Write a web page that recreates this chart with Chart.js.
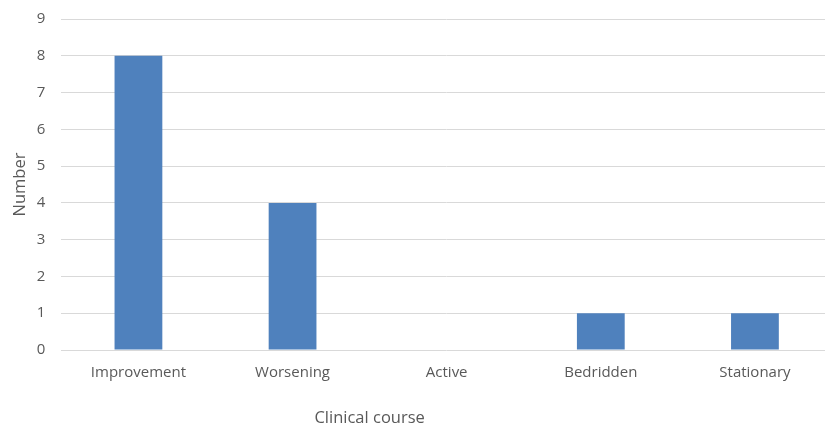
<!DOCTYPE html>
<html>
<head>
<meta charset="utf-8">
<script src="https://cdn.jsdelivr.net/npm/chart.js@4.4.1/dist/chart.umd.min.js"></script>
<style>
  html, body { margin: 0; padding: 0; background: #ffffff; overflow: hidden; }
  #wrap { width: 840px; height: 434px; position: relative; top: -6px; }
</style>
</head>
<body>
<div id="wrap"><canvas id="c" width="840" height="434"></canvas></div>
<script>
const categories = ["Improvement", "Worsening", "Active", "Bedridden", "Stationary"];
const counts = [8, 4, 0, 1, 1];
const yTicks = [0, 1, 2, 3, 4, 5, 6, 7, 8, 9];
const yTitle = "Number";
const xTitle = "Clinical course";

const textColor = "#595959";
const gridColor = "#d9d9d9";
const fontFamily = "'Open Sans', 'Noto Sans', sans-serif";

// Axis caption under the categories, centred between the 2nd and 3rd columns
const xCaption = {
  id: "xCaption",
  afterDraw(chart) {
    const x = chart.scales.x;
    const ctx = chart.ctx;
    ctx.save();
    ctx.font = "16.5px " + fontFamily;
    ctx.fillStyle = textColor;
    ctx.textAlign = "center";
    ctx.textBaseline = "middle";
    ctx.fillText(xTitle, x.getPixelForValue(1.5), chart.chartArea.bottom + 68);
    ctx.restore();
  }
};

new Chart(document.getElementById("c"), {
  type: "bar",
  data: {
    labels: categories,
    datasets: [{
      data: counts,
      backgroundColor: "#4f81bd",
      borderWidth: 0,
      barPercentage: 0.31,
      categoryPercentage: 1.0
    }]
  },
  options: {
    responsive: false,
    animation: false,
    devicePixelRatio: 1,
    layout: { padding: { top: 0, right: 8, bottom: 40, left: 10 } },
    plugins: { legend: { display: false }, tooltip: { enabled: false } },
    scales: {
      x: {
        grid: { display: false },
        border: { display: false },
        ticks: { color: textColor, font: { family: fontFamily, size: 15 }, padding: 6 }
      },
      y: {
        min: 0,
        max: 9,
        afterBuildTicks(axis) { axis.ticks = yTicks.map(v => ({ value: v })); },
        grid: { color: gridColor, lineWidth: 1, drawTicks: false },
        border: { display: false },
        ticks: { color: textColor, font: { family: fontFamily, size: 15 }, padding: 16 },
        title: { display: true, text: yTitle, color: textColor, font: { family: fontFamily, size: 16.5 }, padding: { top: 0, bottom: -9 } }
      }
    }
  },
  plugins: [xCaption]
});
</script>
</body>
</html>
